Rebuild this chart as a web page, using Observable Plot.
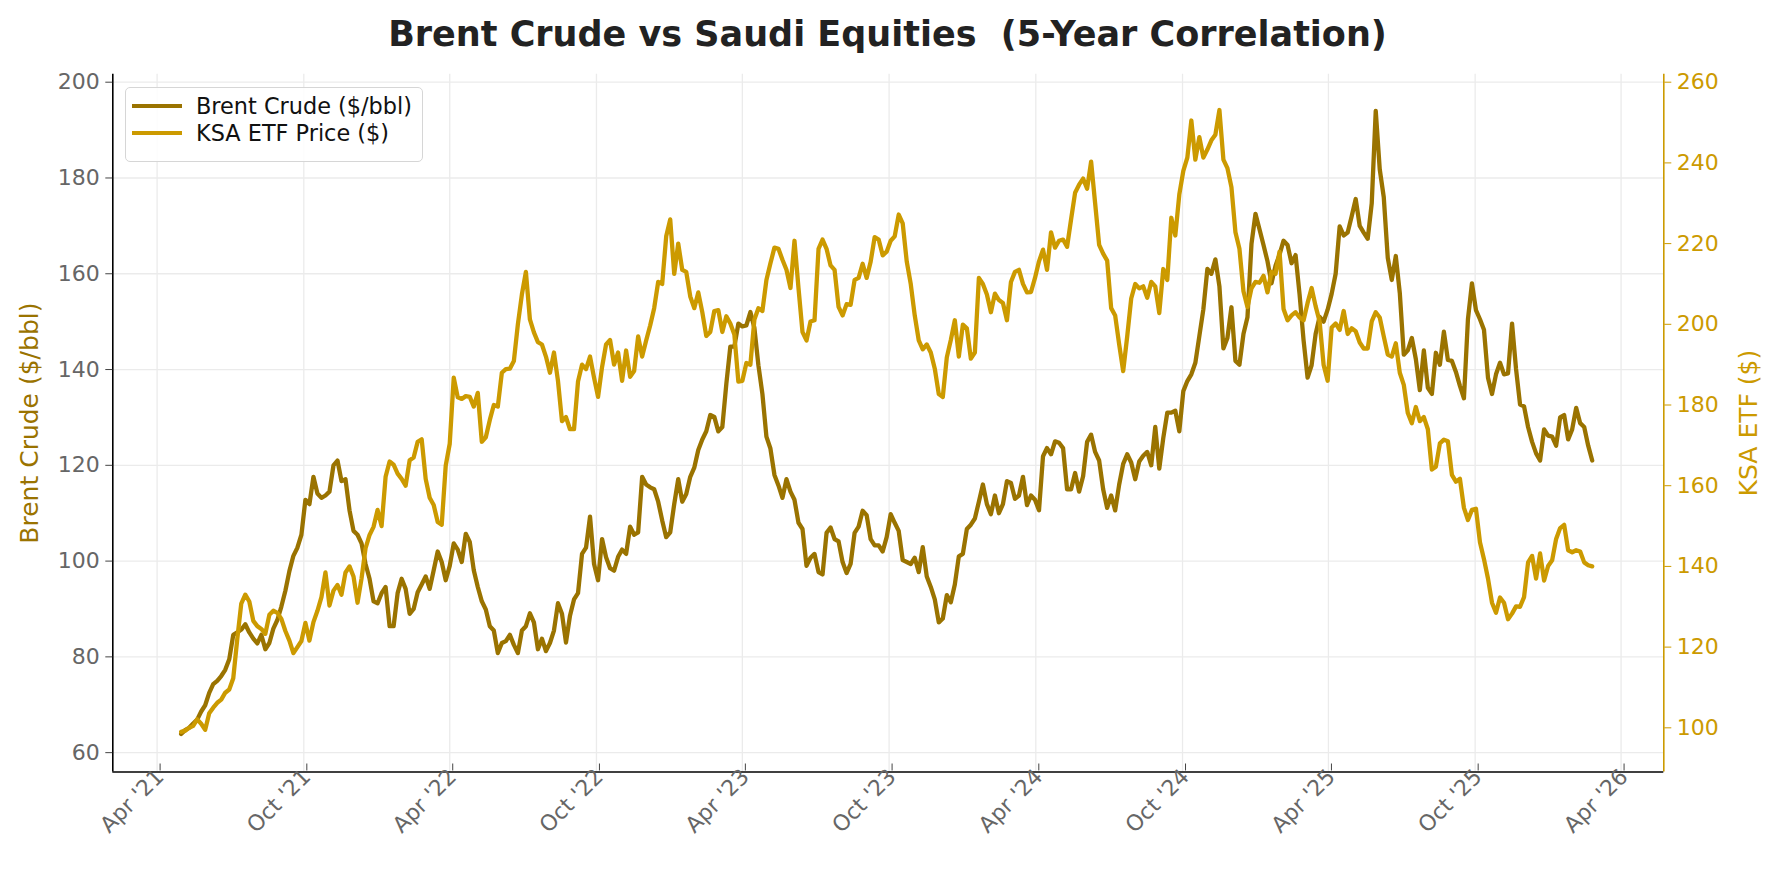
<!DOCTYPE html>
<html><head><meta charset="utf-8">
<script src="https://cdn.jsdelivr.net/npm/d3@7"></script>
<script src="https://cdn.jsdelivr.net/npm/@observablehq/plot@0.6"></script>
<style>
html,body{margin:0;padding:0;background:#fff;}
#wrap{position:relative;width:1779px;height:881px;font-family:"DejaVu Sans",sans-serif;}
#chart{position:absolute;left:0;top:0;}
#title{position:absolute;left:112px;width:1551px;top:12px;text-align:center;font-weight:bold;font-size:35px;line-height:44px;color:#222;}
#legend{position:absolute;left:125px;top:87px;width:298px;height:75px;box-sizing:border-box;border:1.5px solid #d6d6d6;border-radius:5px;background:rgba(255,255,255,0.85);font-size:22.4px;color:#111;}
.row{position:absolute;left:0;height:28px;display:flex;align-items:center;white-space:nowrap;}
.sw{width:50px;height:4.3px;margin-left:6px;margin-right:14px;}
</style></head>
<body>
<div id="wrap">
  <div id="chart"></div>
  <div id="title">Brent Crude vs Saudi Equities&nbsp; (5-Year Correlation)</div>
  <div id="legend">
    <div class="row" style="top:4px"><div class="sw" id="sw1"></div><span>Brent Crude ($/bbl)</span></div>
    <div class="row" style="top:31px"><div class="sw" id="sw2"></div><span>KSA ETF Price ($)</span></div>
  </div>
</div>
<script>
// ---- data: values read every 5 days from the start date ----
const startDate = "2021-05-01";
const stepDays = 5;
const brent = [
  63.9, 64.7, 65.2, 66.1, 66.9, 68.6, 69.9, 72.5, 74.3, 75.0,
  76.0, 77.3, 79.5, 84.6, 85.1, 85.7, 86.8, 85.1, 83.8, 82.8,
  84.6, 81.6, 82.9, 85.9, 87.7, 90.5, 93.8, 97.9, 101.1, 102.8,
  105.5, 112.8, 111.9, 117.6, 114.1, 113.2, 113.7, 114.5, 120.0, 121.0,
  116.7, 117.1, 110.6, 106.3, 105.5, 103.7, 99.4, 96.3, 91.6, 91.2,
  93.3, 94.6, 86.4, 86.4, 93.3, 96.3, 94.2, 89.0, 90.0, 93.5,
  95.1, 96.8, 94.2, 98.1, 102.0, 99.8, 96.0, 99.0, 103.7, 102.4,
  99.8, 105.7, 104.0, 98.1, 94.6, 91.6, 89.9, 86.4, 85.5, 80.8,
  82.9, 83.3, 84.6, 82.5, 80.8, 85.5, 86.4, 89.1, 87.2, 81.6,
  83.8, 81.2, 82.9, 85.5, 91.2, 89.0, 83.0, 88.6, 92.0, 93.3,
  101.5, 102.8, 109.3, 99.4, 96.0, 104.6, 100.8, 98.5, 98.0, 100.9,
  102.4, 101.5, 107.2, 105.5, 106.0, 117.6, 116.0, 115.4, 115.0, 112.4,
  108.5, 105.0, 106.0, 111.9, 117.1, 112.4, 114.0, 117.6, 119.5, 123.2,
  125.4, 127.1, 130.5, 130.1, 127.1, 128.0, 137.0, 144.8, 144.8, 149.6,
  149.0, 149.2, 152.0, 148.7, 140.9, 134.9, 126.0, 123.5, 118.0, 115.8,
  113.2, 117.1, 114.5, 112.8, 108.0, 106.7, 99.0, 100.7, 101.5, 97.7,
  97.2, 105.9, 107.0, 104.6, 104.1, 99.8, 97.5, 99.4, 105.9, 107.2,
  110.5, 109.6, 104.6, 103.3, 103.3, 102.0, 105.0, 109.8, 108.0, 106.3,
  100.2, 99.8, 99.4, 100.7, 97.7, 102.9, 96.8, 94.6, 92.0, 87.2,
  88.0, 92.9, 91.4, 95.1, 101.0, 101.5, 106.7, 107.6, 108.9, 112.4,
  116.0, 111.9, 109.8, 113.7, 110.0, 111.9, 116.7, 116.3, 113.0, 113.7,
  117.6, 111.7, 113.7, 112.8, 110.6, 121.9, 123.6, 122.3, 125.0, 124.7,
  123.6, 115.0, 115.0, 118.4, 114.5, 117.7, 124.9, 126.4, 122.8, 121.0,
  115.0, 111.1, 113.7, 110.6, 116.0, 120.3, 122.3, 120.6, 117.1, 120.8,
  122.0, 122.8, 120.0, 128.0, 119.3, 125.7, 131.0, 131.0, 131.4, 127.1,
  135.5, 137.6, 139.0, 141.4, 147.0, 152.6, 161.0, 160.0, 163.0, 157.4,
  144.4, 146.6, 153.0, 141.8, 141.0, 147.4, 150.9, 166.2, 172.5, 169.3,
  166.0, 162.6, 158.0, 161.7, 164.0, 166.9, 166.0, 162.2, 163.9, 155.7,
  146.1, 138.3, 140.9, 147.4, 151.0, 150.0, 152.5, 155.8, 160.0, 169.9,
  168.0, 168.6, 172.0, 175.6, 170.0, 168.6, 167.3, 174.7, 194.0, 181.8,
  176.0, 163.3, 158.7, 163.7, 156.0, 143.1, 144.0, 146.6, 142.2, 135.7,
  144.0, 136.2, 134.9, 143.5, 141.0, 147.9, 142.0, 141.8, 139.5, 136.6,
  134.0, 150.5, 158.0, 152.4, 150.5, 148.3, 138.3, 134.9, 139.0, 141.4,
  139.0, 139.2, 149.6, 140.1, 132.7, 132.3, 128.0, 124.9, 122.5, 121.0,
  127.5, 126.2, 126.0, 124.1, 130.0, 130.5, 125.4, 127.5, 132.0, 128.8,
  128.0, 124.1, 121.0
];
const ksa = [
  99.0, 99.3, 100.0, 100.5, 102.1, 101.0, 99.5, 103.6, 105.0, 106.2,
  107.0, 108.7, 109.5, 112.3, 122.0, 130.8, 133.0, 131.3, 126.5, 125.2,
  124.5, 123.3, 128.0, 129.0, 128.5, 127.0, 124.0, 121.6, 118.5, 120.0,
  121.5, 126.0, 121.6, 126.2, 129.0, 132.4, 138.5, 130.3, 134.0, 135.4,
  133.0, 138.5, 140.0, 137.5, 131.0, 137.0, 144.5, 147.8, 149.8, 154.0,
  150.0, 162.2, 166.0, 165.2, 163.0, 161.7, 160.0, 166.3, 167.0, 170.9,
  171.5, 161.7, 157.0, 155.2, 151.0, 150.3, 165.0, 170.4, 186.8, 181.9,
  181.5, 182.2, 182.0, 179.6, 183.0, 170.9, 172.0, 176.3, 180.0, 179.6,
  188.0, 188.9, 189.0, 190.9, 200.0, 207.4, 213.0, 201.2, 198.0, 195.6,
  195.0, 192.0, 188.0, 193.0, 186.0, 176.0, 177.0, 174.0, 174.0, 185.8,
  190.0, 188.9, 192.0, 186.8, 182.0, 189.4, 195.0, 196.1, 190.0, 193.0,
  186.0, 193.5, 187.0, 188.4, 197.0, 192.0, 196.0, 199.7, 204.0, 210.5,
  210.0, 221.8, 226.0, 212.5, 220.0, 213.5, 213.0, 206.9, 204.0, 207.9,
  203.0, 197.1, 198.1, 203.3, 203.5, 198.1, 202.0, 200.2, 197.5, 185.8,
  186.0, 190.4, 190.0, 201.2, 204.0, 203.3, 211.0, 215.1, 219.0, 218.7,
  216.0, 213.5, 209.0, 220.7, 209.0, 198.1, 196.0, 200.7, 201.0, 218.7,
  221.0, 218.7, 214.6, 213.5, 204.3, 202.2, 205.0, 204.8, 211.0, 211.5,
  215.0, 211.5, 215.5, 221.6, 221.0, 217.1, 218.0, 220.7, 221.8, 227.2,
  225.0, 215.6, 210.0, 202.2, 196.0, 193.8, 195.0, 193.0, 189.0, 182.7,
  182.0, 191.8, 196.1, 201.0, 192.0, 199.9, 199.0, 191.5, 193.0, 211.5,
  210.0, 207.4, 203.0, 207.6, 206.0, 205.3, 201.0, 210.5, 213.0, 213.5,
  210.0, 207.9, 208.0, 211.5, 215.6, 218.5, 213.5, 222.8, 219.0, 220.7,
  221.0, 219.2, 226.0, 232.6, 234.6, 236.1, 233.6, 240.3, 230.0, 219.7,
  217.5, 215.8, 204.0, 202.2, 195.0, 188.4, 197.0, 206.4, 210.0, 208.9,
  209.4, 206.6, 210.5, 209.4, 202.8, 213.7, 211.0, 226.4, 222.0, 232.2,
  238.0, 241.3, 250.5, 240.8, 246.4, 241.3, 243.3, 245.6, 247.0, 253.1,
  240.8, 238.7, 234.0, 222.8, 218.7, 208.2, 204.3, 208.9, 210.5, 210.3,
  212.0, 207.9, 213.0, 212.5, 218.0, 203.8, 201.0, 202.2, 203.0, 201.7,
  201.0, 205.3, 209.0, 204.5, 200.7, 189.9, 186.0, 199.2, 200.2, 198.6,
  203.3, 197.6, 199.0, 198.3, 195.5, 194.0, 194.0, 200.7, 203.0, 201.7,
  197.0, 192.5, 192.0, 195.3, 188.0, 185.0, 178.0, 175.5, 179.5, 176.0,
  177.0, 174.0, 164.0, 164.7, 170.5, 171.4, 171.0, 162.7, 161.0, 161.7,
  154.5, 151.5, 154.0, 154.3, 146.0, 141.8, 137.0, 131.0, 128.5, 132.3,
  131.0, 126.9, 128.3, 130.1, 130.0, 132.4, 141.0, 142.6, 137.0, 143.2,
  136.5, 140.1, 141.5, 146.8, 149.5, 150.3, 144.0, 143.5, 144.0, 143.7,
  141.0, 140.3, 140.0
];
const leftTicks = [60, 80, 100, 120, 140, 160, 180, 200];
const rightTicks = [100, 120, 140, 160, 180, 200, 220, 240, 260];
const xTickDates = ["2021-04-01","2021-10-01","2022-04-01","2022-10-01","2023-04-01","2023-10-01","2024-04-01","2024-10-01","2025-04-01","2025-10-01","2026-04-01"];

// ---- styling / scales ----
const BRENT_COLOR = "#9a7300";
const KSA_COLOR = "#cc9a00";
const leftDomain = [55.96, 201.67];
const rightDomain = [89.05, 261.98];
const xDomain = [new Date("2021-02-04T18:00Z"), new Date("2026-05-24T07:00Z")];
const toLeft = v => leftDomain[0] + (v - rightDomain[0]) * (leftDomain[1] - leftDomain[0]) / (rightDomain[1] - rightDomain[0]);
const fromLeft = v => rightDomain[0] + (v - leftDomain[0]) * (rightDomain[1] - rightDomain[0]) / (leftDomain[1] - leftDomain[0]);

const t0 = new Date(startDate + "T00:00Z");
const brentRows = brent.map((v, i) => ({date: d3.utcDay.offset(t0, i * stepDays), value: v}));
const ksaRows = ksa.map((v, i) => ({date: d3.utcDay.offset(t0, i * stepDays), value: v}));
const xTicks = xTickDates.map(s => new Date(s + "T00:00Z"));
const fmtX = d => `${d3.utcFormat("%b")(d)} '${d3.utcFormat("%y")(d)}`;

document.getElementById("sw1").style.background = BRENT_COLOR;
document.getElementById("sw2").style.background = KSA_COLOR;

const chart = Plot.plot({
  width: 1779,
  height: 881,
  marginLeft: 112.3,
  marginRight: 115.7,
  marginTop: 73.7,
  marginBottom: 109.5,
  style: {fontFamily: "DejaVu Sans, sans-serif", fontSize: "22px", background: "white", overflow: "visible"},
  x: {type: "utc", domain: xDomain},
  y: {domain: leftDomain},
  marks: [
    Plot.gridX(xTicks, {stroke: "#ebebeb", strokeOpacity: 1, strokeWidth: 1.3}),
    Plot.gridY(leftTicks, {stroke: "#ebebeb", strokeOpacity: 1, strokeWidth: 1.3}),
    Plot.line(brentRows, {x: "date", y: "value", stroke: BRENT_COLOR, strokeWidth: 4.3, strokeLinejoin: "round"}),
    Plot.line(ksaRows, {x: "date", y: d => toLeft(d.value), stroke: KSA_COLOR, strokeWidth: 4.3, strokeLinejoin: "round"}),
    Plot.ruleX([xDomain[0]], {stroke: "#000", strokeWidth: 1.6}),
    Plot.ruleX([xDomain[1]], {stroke: KSA_COLOR, strokeWidth: 1.6}),
    Plot.ruleY([leftDomain[0]], {stroke: "#000", strokeWidth: 1.6}),
    Plot.axisY(leftTicks, {anchor: "left", tickSize: 7, tickPadding: 6, stroke: "#444", fill: "#666", fontSize: 22, label: null, tickFormat: d => String(d)}),
    Plot.axisY(rightTicks.map(toLeft), {anchor: "right", tickSize: 7, tickPadding: 6, stroke: KSA_COLOR, fill: KSA_COLOR, fontSize: 22, label: null, tickFormat: d => String(Math.round(fromLeft(d)))}),
    Plot.axisX(xTicks, {anchor: "bottom", tickSize: 7, tickPadding: 2, dy: -8, dx: 3, tickRotate: -45, stroke: "#444", fill: "#666", fontSize: 22, label: null, tickFormat: fmtX}),
    Plot.text([0], {frameAnchor: "left", textAnchor: "middle", text: () => "Brent Crude ($/bbl)", rotate: -90, dx: -83, fill: BRENT_COLOR, fontSize: 25}),
    Plot.text([0], {frameAnchor: "right", textAnchor: "middle", text: () => "KSA ETF ($)", rotate: -90, dx: 85, fill: KSA_COLOR, fontSize: 25})
  ]
});
document.getElementById("chart").appendChild(chart);
</script>
</body></html>
